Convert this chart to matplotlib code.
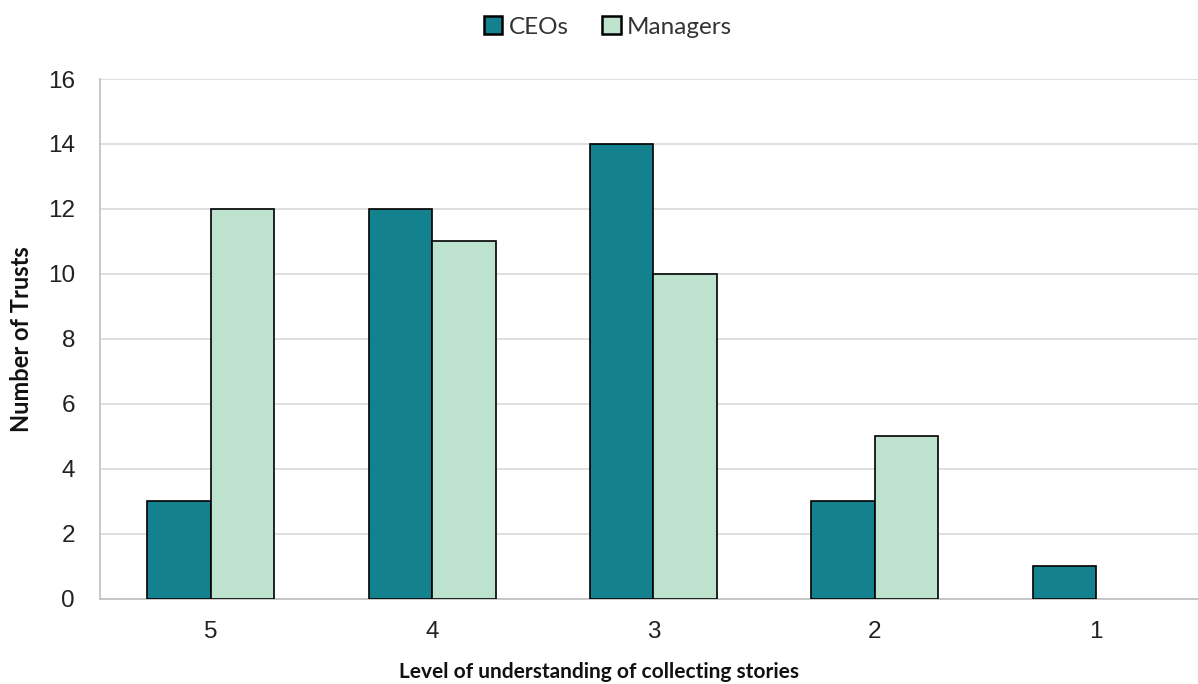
import matplotlib.pyplot as plt
import numpy as np

levels = ['5', '4', '3', '2', '1']
ceos = [3, 12, 14, 3, 1]
managers = [12, 11, 10, 5, 0]

ceo_color = '#14818F'
mgr_color = '#BDE3CF'

fig = plt.figure(figsize=(11.98, 6.84), dpi=100)
ax = fig.add_axes([0.0835, 0.1243, 0.9165, 0.7602])

x = np.arange(len(levels))
w = 0.287
# zero-height bars get no outline
ax.bar(x - w / 2, ceos, w, color=ceo_color, edgecolor='black',
       linewidth=[1.2 if v > 0 else 0 for v in ceos], label='CEOs', zorder=3)
ax.bar(x + w / 2, managers, w, color=mgr_color, edgecolor='black',
       linewidth=[1.2 if v > 0 else 0 for v in managers], label='Managers', zorder=3)

ax.set_xlim(-0.5, 4.46)
ax.set_ylim(0, 16)
ax.set_yticks(range(0, 17, 2))
ax.set_xticks(x)
ax.set_xticklabels(levels)
ax.tick_params(axis='both', length=0, labelsize=17.5, colors='#222222')
ax.tick_params(axis='y', pad=18)
ax.tick_params(axis='x', pad=16)
for lab in ax.get_xticklabels() + ax.get_yticklabels():
    lab.set_fontfamily('Liberation Sans')

ax.grid(axis='y', color='#d9d9d9', linewidth=1.2, zorder=0)
for side in ['top', 'right']:
    ax.spines[side].set_visible(False)
ax.spines['left'].set_color('#bfbfbf')
ax.spines['bottom'].set_color('#bfbfbf')
ax.spines['left'].set_linewidth(1.2)
ax.spines['bottom'].set_linewidth(1.2)

# x title sits centred on the whole figure
fig.text(0.5, 6 / 684, 'Level of understanding of collecting stories', fontsize=15,
         fontweight='bold', family='Lato', ha='center', va='baseline', color='#111111')
fig.text(22 / 1198, 1 - 339 / 684, 'Number of Trusts', fontsize=17, fontweight='bold',
         family='Lato', rotation=90, ha='center', va='center', color='#111111')

leg = fig.legend(loc='center', bbox_to_anchor=(608 / 1198, 1 - 27 / 684), ncol=2, frameon=False,
                 prop={'family': 'Lato', 'size': 17.5}, handlelength=0.75, handleheight=0.75,
                 handletextpad=0.25, columnspacing=1.4)
for t in leg.get_texts():
    t.set_color('#333333')
for p in leg.get_patches():
    p.set_linewidth(1.8)

fig.savefig('out.png', dpi=100)
